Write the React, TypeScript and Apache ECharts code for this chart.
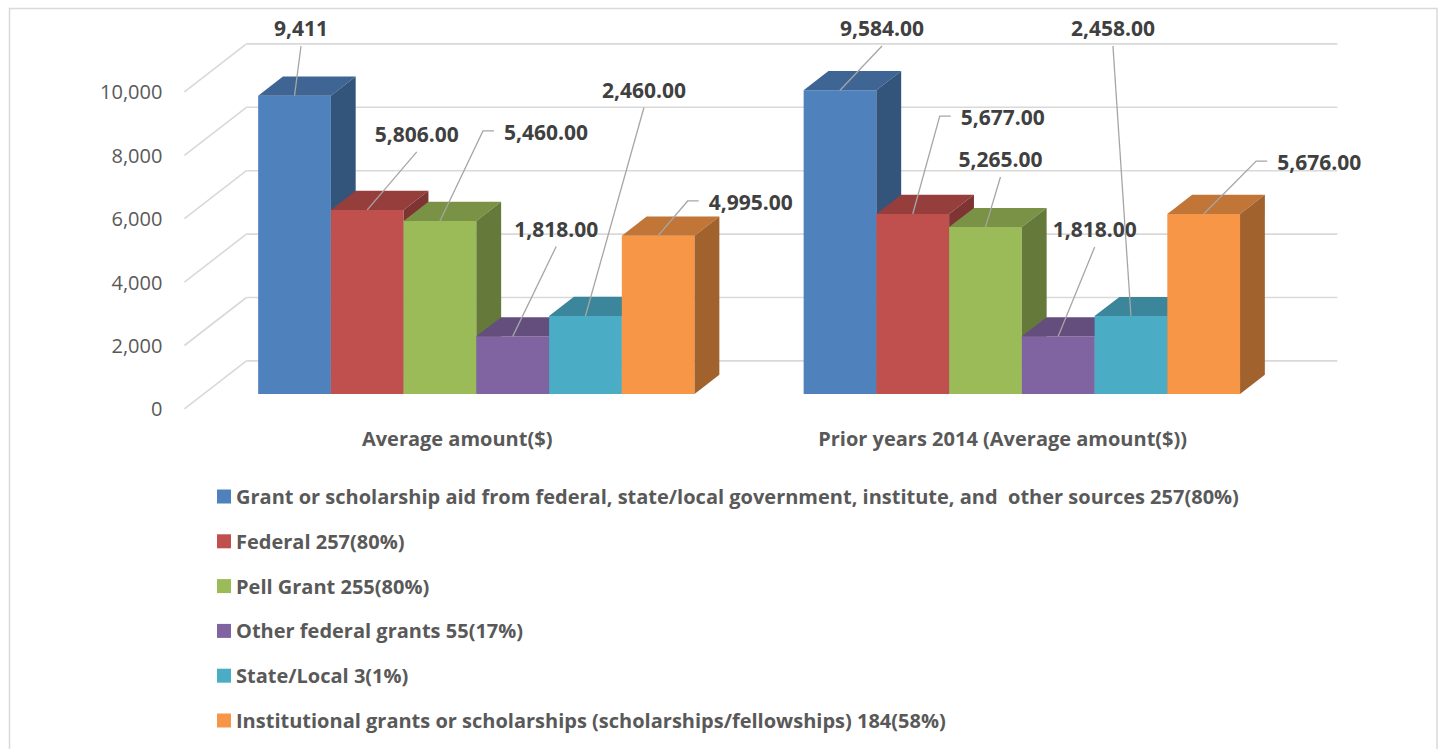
import React, { useEffect, useRef } from "react";
import * as echarts from "echarts";

// ---------- data ----------
const categories = ["Average amount($)", "Prior years 2014 (Average amount($))"];
const seriesNames = [
  "Grant or scholarship aid from federal, state/local government, institute, and  other sources 257(80%)",
  "Federal 257(80%)",
  "Pell Grant 255(80%)",
  "Other federal grants 55(17%)",
  "State/Local 3(1%)",
  "Institutional grants or scholarships (scholarships/fellowships) 184(58%)",
];
const grantTotal = [9411, 9584];
const federal = [5806, 5677];
const pellGrant = [5460, 5265];
const otherFederal = [1818, 1818];
const stateLocal = [2460, 2458];
const institutional = [4995, 5676];
const seriesValues = [grantTotal, federal, pellGrant, otherFederal, stateLocal, institutional];
const valueLabels = [
  ["9,411", "9,584.00"],
  ["5,806.00", "5,677.00"],
  ["5,460.00", "5,265.00"],
  ["1,818.00", "1,818.00"],
  ["2,460.00", "2,458.00"],
  ["4,995.00", "5,676.00"],
];
const yTicks = [0, 2000, 4000, 6000, 8000, 10000];

// ---------- layout / style ----------
const COLORS = ["#4F81BD", "#C0504D", "#9BBB59", "#8064A2", "#4BACC6", "#F79646"];
const FONT = '"Open Sans", "Noto Sans", sans-serif';
// oblique 3D offsets relative to the bar front plane (px)
const BAR_DX = 24.8, BAR_DY = -19.2;
const BACK_DX = 42.8, BACK_DY = -33.1;
const FRONT_DX = -19.2, FRONT_DY = 14.9;
const GROUP_FRAC = 0.8;
// label placement relative to the bar's front-top centre: [kind, dx, dy]
// "v": dx,dy = label centre, leader goes straight to below label
// "e": dx,dy = elbow point, short horizontal tick, text left of it
const LABEL_LAYOUT: [string, number, number][][] = [
  [["v", 6.5, -67.2], ["v", 42, -61.7]],
  [["v", 49.5, -75.5], ["e", 27, -98]],
  [["e", 43, -90], ["v", 15, -67.6]],
  [["v", 43.5, -107.4], ["v", 36.5, -106.9]],
  [["v", 58.5, -226], ["v", -18, -287.6]],
  [["e", 29.5, -34.7], ["e", 52.5, -53]],
];

function shade(hex: string, f: number) {
  const n = parseInt(hex.slice(1), 16);
  const r = Math.round(((n >> 16) & 255) * f);
  const g = Math.round(((n >> 8) & 255) * f);
  const b = Math.round((n & 255) * f);
  return `rgb(${r},${g},${b})`;
}

function barGeom(api: any, c: number, v: number, s: number) {
  const base = api.coord([c, 0]);
  const top = api.coord([c, v]);
  const band = api.size([1, 0])[0];
  const bw = (band * GROUP_FRAC) / seriesValues.length;
  const x0 = base[0] - (band * GROUP_FRAC) / 2 + s * bw;
  return { x0, x1: x0 + bw, y0: base[1], y1: top[1], bw };
}

function buildOption() {
  const barSeries = seriesValues.map((vals, s) => ({
    type: "custom",
    name: seriesNames[s],
    xAxisIndex: 0,
    yAxisIndex: 0,
    z: 3,
    clip: false,
    itemStyle: { color: COLORS[s] },
    data: vals.map((v, c) => [c, v]),
    renderItem: (params: any, api: any) => {
      const c = api.value(0);
      const v = api.value(1);
      const { x0, x1, y0, y1, bw } = barGeom(api, c, v, s);
      const col = COLORS[s];
      return {
        type: "group",
        children: [
          {
            type: "rect",
            shape: { x: x0, y: y1, width: bw, height: y0 - y1 },
            style: { fill: col },
          },
          {
            type: "polygon",
            shape: {
              points: [
                [x0, y1],
                [x1, y1],
                [x1 + BAR_DX, y1 + BAR_DY],
                [x0 + BAR_DX, y1 + BAR_DY],
              ],
            },
            style: { fill: shade(col, 0.78) },
          },
          {
            type: "polygon",
            shape: {
              points: [
                [x1, y1],
                [x1, y0],
                [x1 + BAR_DX, y0 + BAR_DY],
                [x1 + BAR_DX, y1 + BAR_DY],
              ],
            },
            style: { fill: shade(col, 0.65) },
          },
        ],
      };
    },
  }));

  const labelData: number[][] = [];
  seriesValues.forEach((vals, s) => vals.forEach((v, c) => labelData.push([c, v, s])));

  const labelSeries = {
    type: "custom",
    xAxisIndex: 0,
    yAxisIndex: 0,
    z: 6,
    clip: false,
    silent: true,
    data: labelData,
    renderItem: (params: any, api: any) => {
      const c = api.value(0);
      const v = api.value(1);
      const s = api.value(2);
      const { x0, bw, y1 } = barGeom(api, c, v, s);
      const ax = x0 + bw / 2;
      const ay = y1;
      const [kind, dx, dy] = LABEL_LAYOUT[s][c];
      const lineStyle = { stroke: "#a6a6a6", lineWidth: 1.3, fill: "none" };
      const textFont = { fontFamily: FONT, fontWeight: "bold", fontSize: 21, fill: "#404040" };
      if (kind === "e") {
        const ex = ax + dx, ey = ay + dy;
        return {
          type: "group",
          children: [
            { type: "polyline", shape: { points: [[ax, ay], [ex, ey], [ex + 11, ey]] }, style: lineStyle },
            {
              type: "text",
              style: { ...textFont, text: valueLabels[s][c], x: ex + 21, y: ey + 1, align: "left", verticalAlign: "middle" },
            },
          ],
        };
      }
      const cx = ax + dx, cy = ay + dy;
      return {
        type: "group",
        children: [
          { type: "polyline", shape: { points: [[ax, ay], [cx, cy + 17.5]] }, style: lineStyle },
          {
            type: "text",
            style: { ...textFont, text: valueLabels[s][c], x: cx, y: cy, align: "center", verticalAlign: "middle" },
          },
        ],
      };
    },
  };

  const wallSeries = {
    type: "custom",
    xAxisIndex: 0,
    yAxisIndex: 0,
    z: 1,
    clip: false,
    silent: true,
    data: yTicks.map((t) => [0, t]),
    renderItem: (params: any, api: any) => {
      const y = api.coord([0, api.value(1)])[1];
      const left = params.coordSys.x;
      const right = left + params.coordSys.width;
      const st = { stroke: "#d9d9d9", lineWidth: 1.6, fill: "none" };
      return {
        type: "group",
        children: [
          {
            type: "line",
            shape: { x1: left + BACK_DX, y1: y + BACK_DY, x2: right + BACK_DX, y2: y + BACK_DY },
            style: st,
          },
          {
            type: "line",
            shape: { x1: left + FRONT_DX, y1: y + FRONT_DY, x2: left + BACK_DX, y2: y + BACK_DY },
            style: st,
          },
        ],
      };
    },
  };

  const gridLeft = 203.6, gridTop = 77, gridW = 1091, gridH = 317;

  return {
    animation: false,
    color: COLORS,
    backgroundColor: "#ffffff",
    graphic: [
      {
        type: "rect",
        z: -10,
        silent: true,
        shape: { x: 9.5, y: 8.5, width: 1427.5, height: 800 },
        style: { fill: "none", stroke: "#d9d9d9", lineWidth: 1.5 },
      },
    ],
    grid: [
      { left: gridLeft, top: gridTop, width: gridW, height: gridH },
      { left: gridLeft + FRONT_DX, top: gridTop + FRONT_DY, width: gridW, height: gridH },
    ],
    xAxis: [
      { type: "category", gridIndex: 0, data: categories, show: false },
      {
        type: "category",
        gridIndex: 1,
        data: categories,
        axisLine: { show: false },
        axisTick: { show: false },
        axisLabel: {
          interval: 0,
          margin: 20,
          fontSize: 20,
          fontWeight: "bold",
          color: "#595959",
          fontFamily: FONT,
        },
      },
    ],
    yAxis: [
      {
        type: "value",
        gridIndex: 0,
        min: 0,
        max: 10000,
        interval: 2000,
        show: false,
      },
      {
        type: "value",
        gridIndex: 1,
        min: 0,
        max: 10000,
        interval: 2000,
        axisLine: { show: false },
        axisTick: { show: false },
        splitLine: { show: false },
        axisLabel: {
          margin: 22,
          fontSize: 20,
          color: "#595959",
          fontFamily: FONT,
          formatter: (v: number) => v.toLocaleString("en-US"),
        },
      },
    ],
    legend: {
      orient: "vertical",
      left: 212,
      top: 481.5,
      itemWidth: 14,
      itemHeight: 14,
      itemGap: 24.8,
      icon: "rect",
      selectedMode: false,
      data: seriesNames,
      textStyle: {
        fontFamily: FONT,
        fontWeight: "bold",
        fontSize: 20,
        lineHeight: 20,
        color: "#595959",
      },
    },
    series: [wallSeries, ...barSeries, labelSeries],
  };
}

export default function App() {
  const ref = useRef<HTMLDivElement>(null);
  useEffect(() => {
    const chart = echarts.init(ref.current!, null, { renderer: "svg" });
    chart.setOption(buildOption() as any);
    return () => chart.dispose();
  }, []);
  return (
    <div
      ref={ref}
      style={{ position: "fixed", left: 0, top: 0, width: 1440, height: 749, background: "#ffffff" }}
    />
  );
}
